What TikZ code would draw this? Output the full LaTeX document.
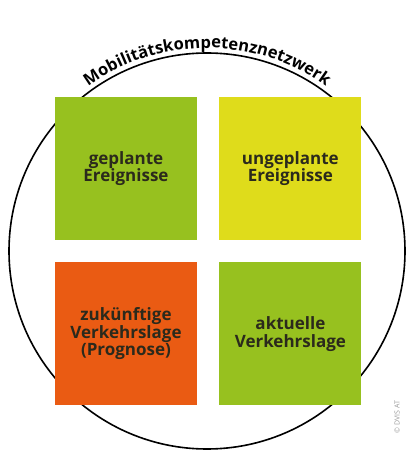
\documentclass[tikz,border=0pt]{standalone}
\usepackage{fontspec}
\setmainfont{Open Sans}
\usetikzlibrary{positioning,decorations.text}

\definecolor{grasgruen}{HTML}{97C11F}
\definecolor{senfgelb}{HTML}{DFDC1B}
\definecolor{signalorange}{HTML}{EA5B13}
\definecolor{schrift}{HTML}{2B2A1C}

\tikzset{
  tile/.style={rectangle, minimum width=142pt, minimum height=143pt, inner sep=0pt,
    align=center, text=schrift, font=\fontsize{17}{17.5}\selectfont\bfseries}
}

\begin{document}
\begin{tikzpicture}[x=1pt,y=1pt]
  \useasboundingbox (0,0) rectangle (407,451);
  \coordinate (mitte) at (207,200);
  \draw[line width=1.6pt] (mitte) circle[radius=198];
  \path[decorate, decoration={text along path, text align=center,
      text={|\fontsize{16.5}{16.5}\selectfont\bfseries|Mobilitätskompetenznetzwerk}}]
    (mitte) ++(132:203) arc[start angle=132, end angle=48, radius=203];
  \node[tile, fill=grasgruen] (geplant) at (126,282.5) {geplante\\Ereignisse};
  \node[tile, fill=senfgelb, right=22pt of geplant] (ungeplant) {ungeplante\\Ereignisse};
  \node[tile, fill=signalorange, below=22pt of geplant] (prognose) {zukünftige\\Verkehrslage\\(Prognose)};
  \node[tile, fill=grasgruen, below=22pt of ungeplant] (aktuell) {aktuelle\\Verkehrslage};
  \node[rotate=90, text=black!40, font=\fontsize{7}{7}\selectfont] (quelle) at (397,34) {© DVIS AT};
\end{tikzpicture}
\end{document}
